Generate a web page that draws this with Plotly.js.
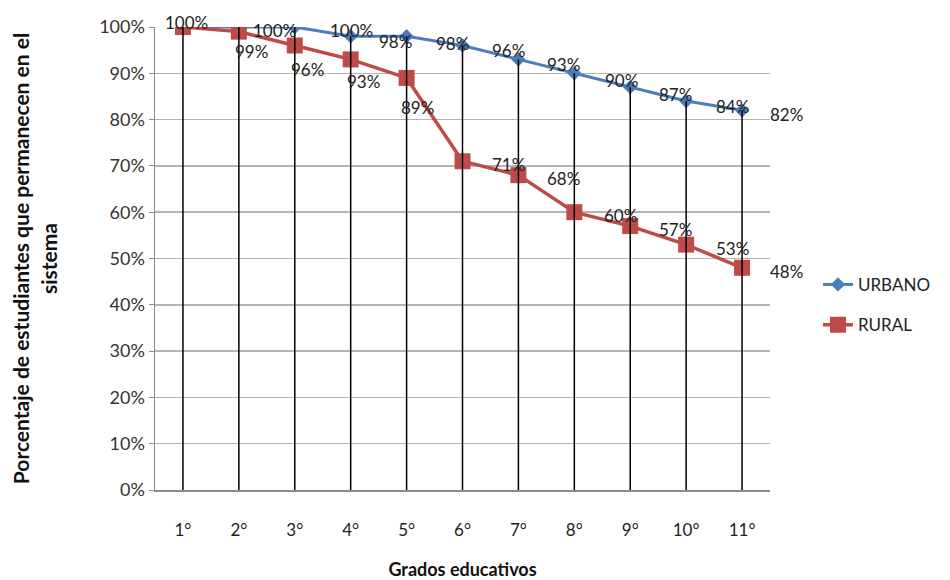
<!DOCTYPE html>
<html>
<head>
<meta charset="utf-8">
<script src="https://cdn.plot.ly/plotly-3.0.1.min.js"></script>
<style>html,body{margin:0;padding:0;background:#fff;}#chart{width:950px;height:580px;}</style>
</head>
<body>
<div id="chart"></div>
<script>
// ---- data ----
const grados = ['1°','2°','3°','4°','5°','6°','7°','8°','9°','10°','11°'];
const urbano = [100,100,100,98,98,96,93,90,87,84,82];
const rural  = [100,99,96,93,89,71,68,60,57,53,48];
const yTicks = [0,10,20,30,40,50,60,70,80,90,100];

// ---- label offsets (style, pixels: dx right, dy down) ----
const urbanOff = [[4,-5],[36,3],[57,3],[45,5],[46,7],[46,5],[45,5],[47,7],[45,7],[46,5],[44,4]];
const ruralOff = [[4,-5],[13,20],[13,24],[13,22],[11,30],[46,3],[45,3],[46,3],[45,3],[46,4],[44,4]];

const FONT = 'Lato, "Liberation Sans", sans-serif';
const BLUE = '#4a7ebb', RED = '#be4b48';

// drop lines from highest point down to axis
const dropX = [], dropY = [];
grados.forEach((g, i) => {
  dropX.push(g, g, null);
  dropY.push(Math.max(urbano[i], rural[i]), 0, null);
});

const traces = [
  {x: grados, y: urbano, name: 'URBANO', type: 'scatter', mode: 'lines+markers',
   line: {color: BLUE, width: 3}, marker: {symbol: 'diamond', size: 11, color: BLUE},
   legend: 'legend', hoverinfo: 'x+y'},
  {x: grados, y: rural, name: 'RURAL', type: 'scatter', mode: 'lines+markers',
   line: {color: RED, width: 3.5}, marker: {symbol: 'square', size: 16, color: RED},
   legend: 'legend2', hoverinfo: 'x+y'},
  {x: dropX, y: dropY, type: 'scatter', mode: 'lines', showlegend: false,
   line: {color: '#000', width: 1.5}, hoverinfo: 'skip'}
];

const annotations = [];
function addLabels(vals, offs, skipFirst) {
  vals.forEach((v, i) => {
    if (skipFirst && i === 0) return;
    annotations.push({x: grados[i], y: v, xref: 'x', yref: 'y', text: v + '%',
      showarrow: false, xanchor: 'center', yanchor: 'middle',
      xshift: offs[i][0], yshift: -offs[i][1],
      font: {family: FONT, size: 17, color: '#222'}});
  });
}
addLabels(rural, ruralOff, true);
addLabels(urbano, urbanOff, false);

const layout = {
  width: 950, height: 580,
  margin: {l: 155, r: 180, t: 27, b: 90},
  paper_bgcolor: '#fff', plot_bgcolor: '#fff',
  font: {family: FONT, size: 15, color: '#333'},
  xaxis: {type: 'category', range: [-0.5, 10.5], showline: true, linecolor: '#8c8c8c', linewidth: 2,
    ticks: '', ticklabelstandoff: 24, showgrid: false, zeroline: false,
    tickfont: {family: FONT, size: 17, color: '#222'},
    title: {text: '<b>Grados educativos</b>', font: {family: FONT, size: 18, color: '#111'}, standoff: 32}},
  yaxis: {range: [0, 100], tickvals: yTicks, ticktext: yTicks.map(v => v + '%'),
    showline: true, linecolor: '#8c8c8c', linewidth: 1.5, ticks: 'outside', ticklen: 5, tickcolor: '#8c8c8c',
    showgrid: true, gridcolor: '#b4b4b4', gridwidth: 1.5, zeroline: false,
    tickfont: {family: FONT, size: 18, color: '#333'},
    title: {text: '<b>Porcentaje de estudiantes que permanecen en el<br>sistema</b>',
      font: {family: FONT, size: 21, color: '#111'}, standoff: 36}},
  legend: {x: 1.078, y: 0.443, xanchor: 'left', yanchor: 'middle', bgcolor: 'rgba(0,0,0,0)',
    font: {family: FONT, size: 17, color: '#222'}},
  legend2: {x: 1.078, y: 0.356, xanchor: 'left', yanchor: 'middle', bgcolor: 'rgba(0,0,0,0)',
    font: {family: FONT, size: 17, color: '#222'}},
  annotations: annotations,
  showlegend: true
};

Plotly.newPlot('chart', traces, layout, {displayModeBar: false, staticPlot: true});
</script>
</body>
</html>
